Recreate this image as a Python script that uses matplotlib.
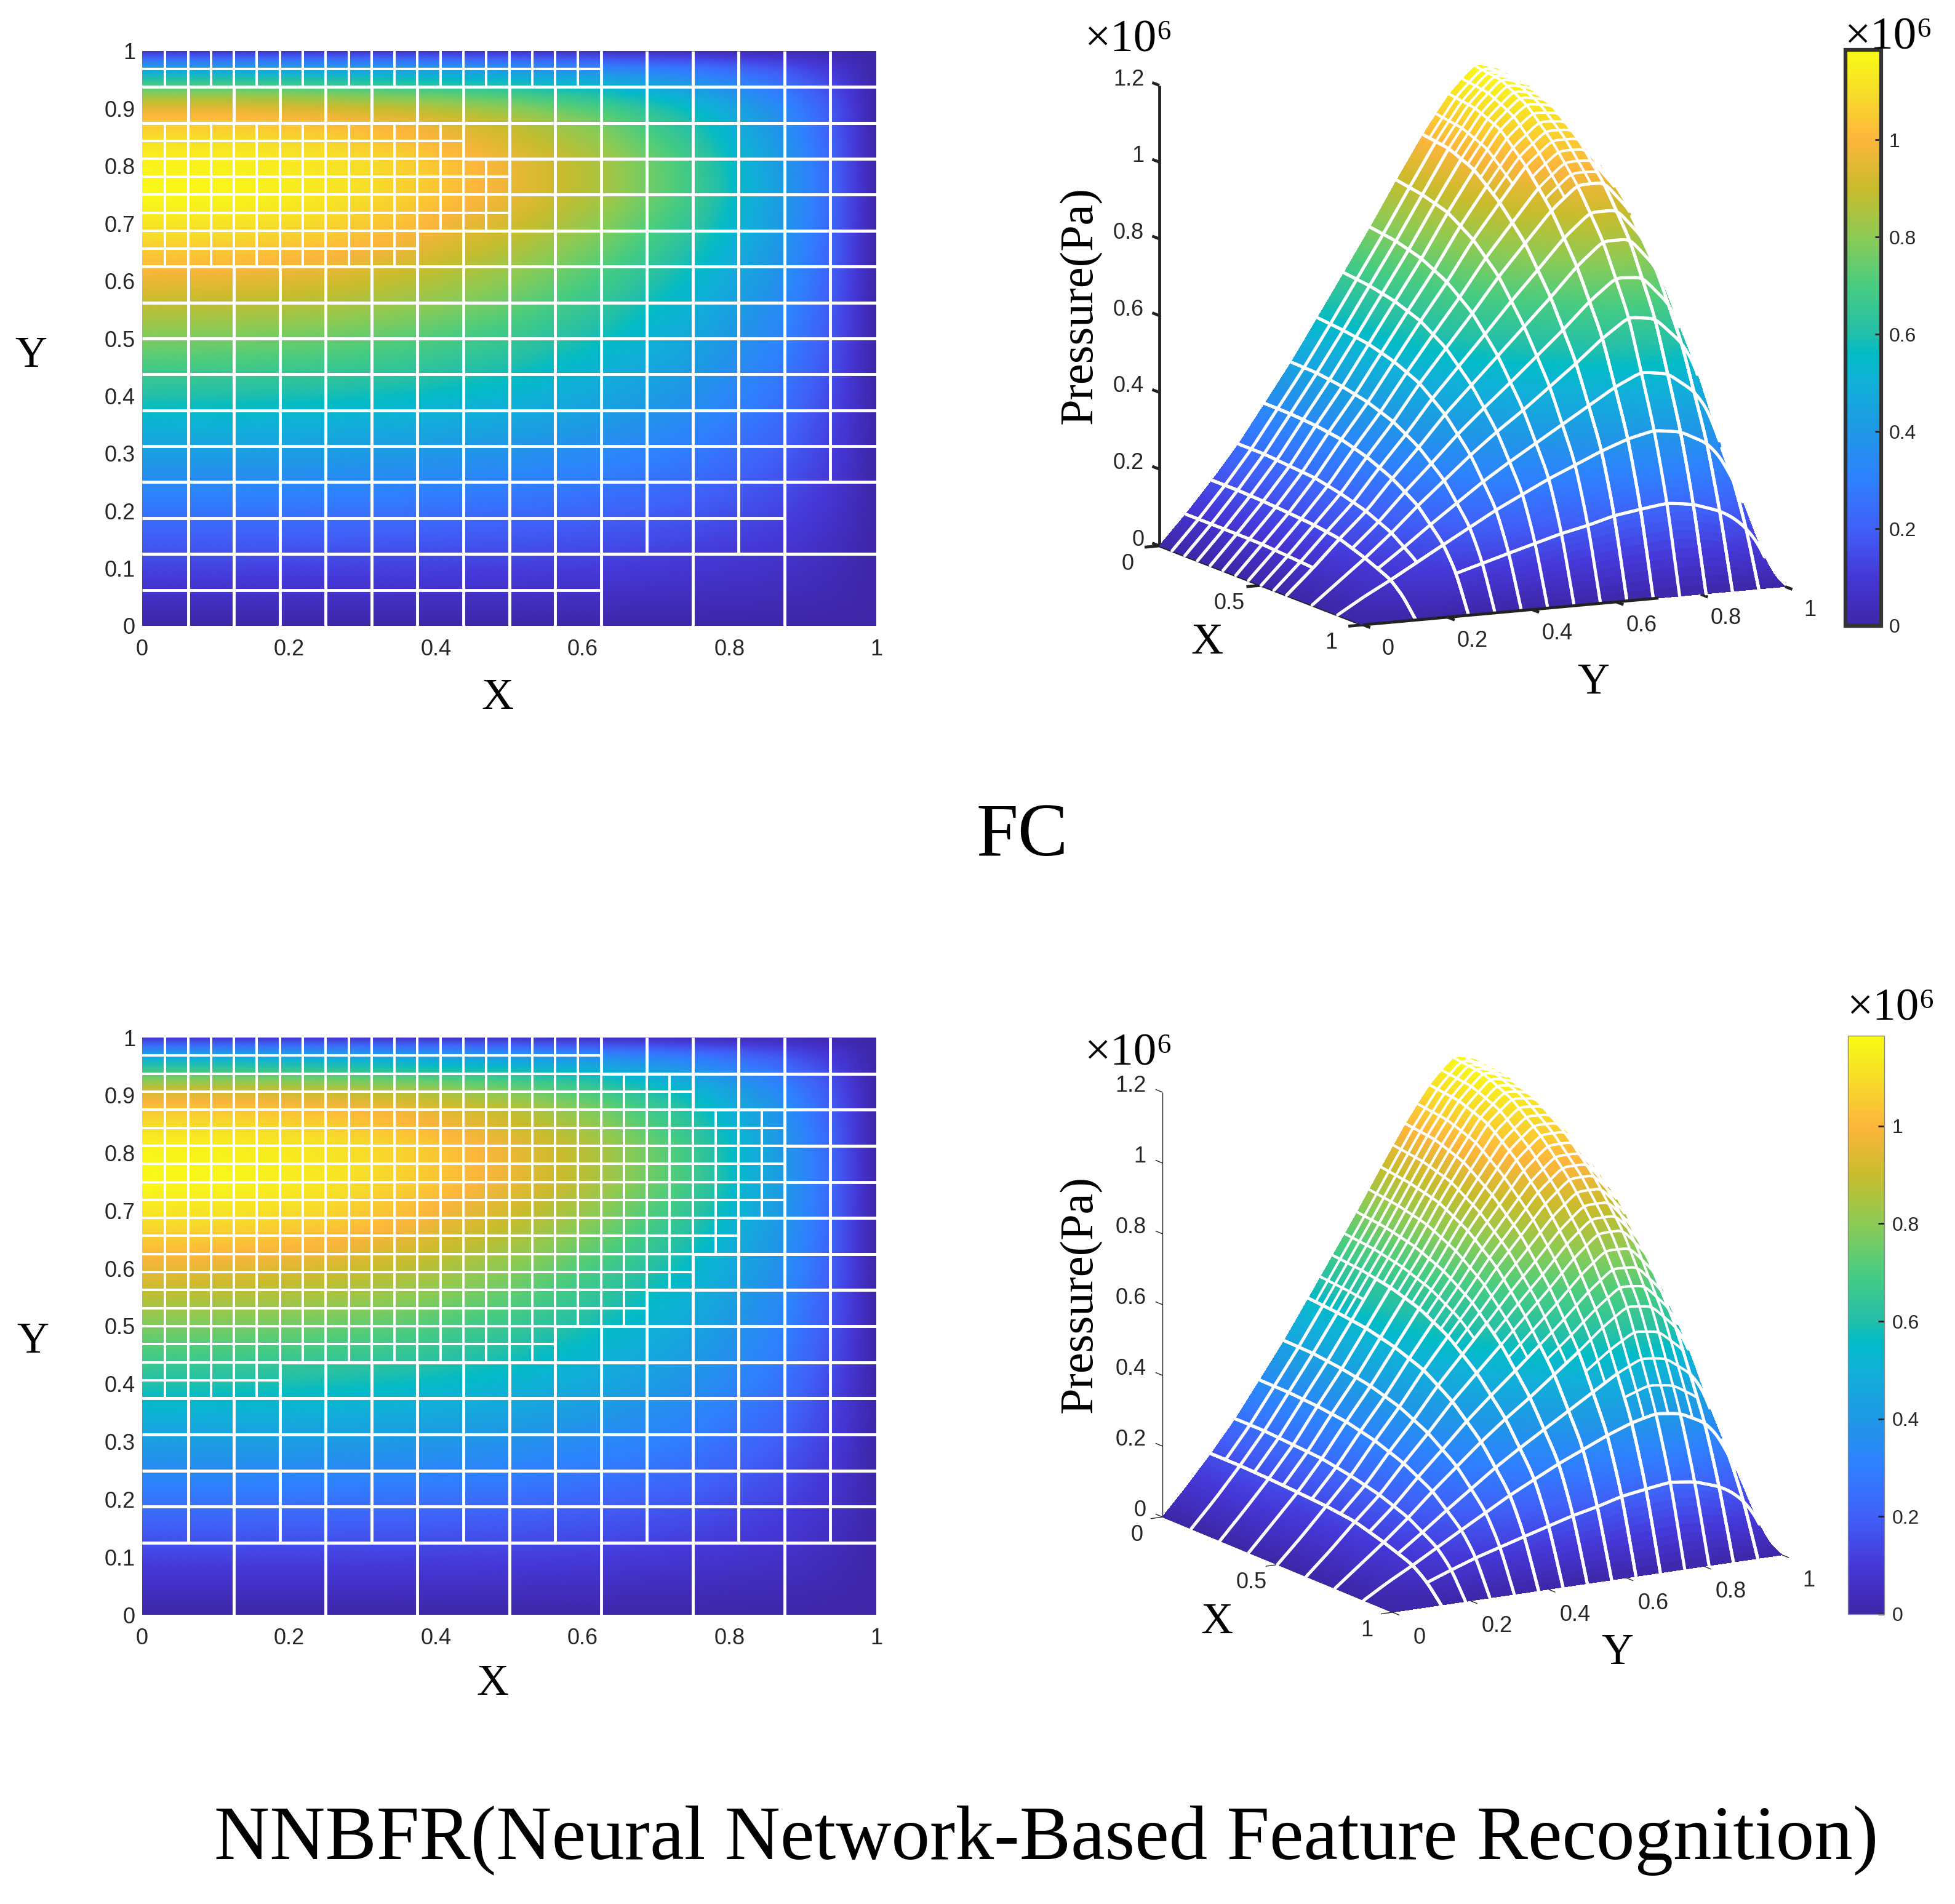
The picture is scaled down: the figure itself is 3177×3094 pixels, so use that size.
import numpy as np
import matplotlib
matplotlib.use("Agg")
import matplotlib.pyplot as plt
from matplotlib.cm import ScalarMappable
from matplotlib.collections import LineCollection
from matplotlib.colors import LinearSegmentedColormap, Normalize
from mpl_toolkits.mplot3d import proj3d
from mpl_toolkits.mplot3d.art3d import Line3DCollection

# ---- data -----------------------------------------------------------------
x_nodes = [0, .125, .25, .375, .5, .625, .75, .875, .9375, 1]
y_nodes = [0, .0625, .125, .1875, .25, .3125, .375, .4375, .5, .5625, .625,
           .6875, .75, .8125, .875, .90625, .9375, .96875, 1]
# pressure in units of 1e6 Pa; one row per y node, one column per x node
pressure = [
    [0, 0, 0, 0, 0, 0, 0, 0, 0, 0],
    [.076, .076, .076, .075, .07, .065, .055, .042, .028, 0],
    [.158, .158, .155, .15, .145, .135, .11, .08, .048, 0],
    [.246, .246, .24, .235, .22, .20, .17, .12, .075, 0],
    [.346, .345, .34, .33, .31, .28, .235, .16, .10, 0],
    [.447, .445, .435, .42, .395, .355, .295, .20, .12, 0],
    [.557, .55, .54, .52, .49, .435, .355, .24, .14, 0],
    [.668, .66, .645, .62, .575, .505, .41, .275, .16, 0],
    [.78, .77, .75, .715, .66, .575, .46, .31, .18, 0],
    [.897, .885, .865, .82, .75, .645, .515, .34, .195, 0],
    [1.01, 1.0, .97, .91, .83, .715, .57, .37, .215, 0],
    [1.11, 1.10, 1.07, 1.0, .91, .79, .63, .395, .225, 0],
    [1.18, 1.17, 1.13, 1.06, .97, .85, .68, .41, .235, 0],
    [1.16, 1.15, 1.12, 1.06, .97, .85, .67, .40, .225, 0],
    [1.05, 1.05, 1.02, .97, .89, .77, .60, .365, .20, 0],
    [.93, .93, .90, .86, .79, .68, .54, .325, .18, 0],
    [.72, .72, .70, .67, .62, .54, .42, .26, .15, 0],
    [.46, .46, .45, .43, .40, .35, .28, .18, .10, 0],
    [.07, .07, .07, .06, .06, .05, .04, .03, .02, 0],
]
# refinement blocks of each mesh: x0, x1, y0, y1, cell width, cell height
fc_mesh = [
    (0, .625, 0, .125, 1/16, 1/16), (.625, 1, 0, .125, 1/8, 1/8),
    (0, .875, .125, .25, 1/16, 1/16), (.875, 1, .125, .25, 1/8, 1/8),
    (0, 1, .25, .625, 1/16, 1/16),
    (0, .375, .625, .6875, 1/32, 1/32), (.375, 1, .625, .6875, 1/16, 1/16),
    (0, .5, .6875, .8125, 1/32, 1/32), (.5, 1, .6875, .8125, 1/16, 1/16),
    (0, .4375, .8125, .875, 1/32, 1/32), (.4375, 1, .8125, .875, 1/16, 1/16),
    (0, 1, .875, .9375, 1/16, 1/16),
    (0, .625, .9375, 1, 1/32, 1/32), (.625, 1, .9375, 1, 1/16, 1/16),
]
nnbfr_mesh = [
    (0, 1, 0, .125, 1/8, 1/8),
    (0, 1, .125, .375, 1/16, 1/16),
    (0, .1875, .375, .4375, 1/32, 1/32), (.1875, 1, .375, .4375, 1/16, 1/16),
    (0, .5625, .4375, .5, 1/32, 1/32), (.5625, 1, .4375, .5, 1/16, 1/16),
    (0, .6875, .5, .5625, 1/32, 1/32), (.6875, 1, .5, .5625, 1/16, 1/16),
    (0, .75, .5625, .625, 1/32, 1/32), (.75, 1, .5625, .625, 1/16, 1/16),
    (0, .8125, .625, .6875, 1/32, 1/32), (.8125, 1, .625, .6875, 1/16, 1/16),
    (0, .875, .6875, .875, 1/32, 1/32), (.875, 1, .6875, .875, 1/16, 1/16),
    (0, .75, .875, .9375, 1/32, 1/32), (.75, 1, .875, .9375, 1/16, 1/16),
    (0, .625, .9375, 1, 1/32, 1/32), (.625, 1, .9375, 1, 1/16, 1/16),
]
tick_2d = [0, .2, .4, .6, .8, 1]
tick_2d_labels = ['0', '0.2', '0.4', '0.6', '0.8', '1']
tick_2d_y = [0, .1, .2, .3, .4, .5, .6, .7, .8, .9, 1]
tick_2d_y_labels = ['0', '0.1', '0.2', '0.3', '0.4', '0.5', '0.6', '0.7', '0.8', '0.9', '1']
tick_z = [0, .2, .4, .6, .8, 1, 1.2]
tick_z_labels = ['0', '0.2', '0.4', '0.6', '0.8', '1', '1.2']
tick_x3d = [0, .5, 1]
tick_x3d_labels = ['0', '0.5', '1']
tick_cb = [0, .2, .4, .6, .8, 1]
tick_cb_labels = ['0', '0.2', '0.4', '0.6', '0.8', '1']
color_levels = [0, .1, .2, .3, .4, .5, .56, .6, .7, .8, .9, 1.0, 1.1, 1.185]
color_stops = ['#3e26a8', '#4538d8', '#4060f8', '#2f80ff', '#1f98e6', '#10b0d8', '#02bbc6',
               '#22bfaa', '#48cc80', '#8ccb55', '#c8bc2c', '#fdb53c', '#f7de28', '#f9fb15']
color_max = 1.185
title_fc = 'FC'
title_nn = 'NNBFR(Neural Network-Based Feature Recognition)'
# ---------------------------------------------------------------------------

W, H = 3177, 3094
SERIF = ['Liberation Serif', 'DejaVu Serif']
SANS = ['Liberation Sans', 'DejaVu Sans']
TXT = '#262626'
fig = plt.figure(figsize=(W / 100, H / 100), dpi=100, facecolor='white')

stops = [(v / color_max, c) for v, c in zip(color_levels, color_stops)]
cmap = LinearSegmentedColormap.from_list('parula_like', stops, N=512)
norm = Normalize(0, color_max)


def ftext(px, py, s, **kw):
    kw.setdefault('ha', 'center')
    kw.setdefault('va', 'center')
    kw.setdefault('family', SERIF)
    if not kw.get('rotation'):
        py += 7
    fig.text(px / W, 1 - py / H, s, **kw)


def rect(l, t, r, b):
    return [l / W, 1 - b / H, (r - l) / W, (b - t) / H]


def soften(a, width):
    # rounds the corners left by the coarse table, keeping the end values
    k = np.hanning(width + 2)[1:-1]
    k /= k.sum()
    h = width // 2
    pad = np.concatenate([2 * a[0] - a[h:0:-1], a, 2 * a[-1] - a[-2:-h - 2:-1]])
    return np.convolve(pad, k, mode='valid')


P = np.array(pressure, float)
XN, YN = np.array(x_nodes, float), np.array(y_nodes, float)
fine = np.linspace(0, 1, 321)
F = np.array([np.interp(fine, XN, row) for row in P])
F = np.array([np.interp(fine, YN, F[:, j]) for j in range(F.shape[1])]).T
F = np.array([soften(row, 25) for row in F])
F = np.array([soften(F[:, j], 15) for j in range(F.shape[1])]).T
dFy, dFx = np.gradient(F / 1.2, fine, fine)


def mesh_lines(blocks, small):
    segs = []
    for x0, x1, y0, y1, dx, dy in blocks:
        if small != (dx == 1 / 32):
            continue
        for x in np.arange(x0, x1 + 1e-9, dx):
            if 0 < x < 1:
                segs.append(((x, y0), (x, y1)))
        for y in np.arange(y0, y1 + 1e-9, dy):
            if 0 < y < 1:
                segs.append(((x0, y), (x1, y)))
    return segs


def panel_2d(box, blocks):
    ax = fig.add_axes(rect(*box))
    ax.pcolormesh(fine[::4], fine[::4], F[::4, ::4], shading='gouraud', cmap=cmap, norm=norm)
    for small, lw in ((True, 2.9), (False, 3.5)):
        ax.add_collection(LineCollection(mesh_lines(blocks, small), colors='white', linewidths=lw,
                                         capstyle='butt', zorder=3))
    ax.set_xlim(0, 1)
    ax.set_ylim(0, 1)
    for s in ax.spines.values():
        s.set_visible(False)
    ax.set_xticks(tick_2d, tick_2d_labels, family=SANS, fontsize=26, color=TXT)
    ax.set_yticks(tick_2d_y, tick_2d_y_labels, family=SANS, fontsize=26, color=TXT)
    ax.tick_params(length=0)
    ax.tick_params(axis='x', pad=15)
    ax.tick_params(axis='y', pad=8)
    return ax


def panel_3d(A_px, C_px, elev, azim, aspect, blocks, axis_lw, tick_len, heavy_y, ylab_off, xlab_off, zlab_dx,
             small_lw):
    size = 1500
    ax = fig.add_axes(rect(0, 0, size, size), projection='3d', proj_type='ortho')
    ax.set_xlim(0, 1)
    ax.set_ylim(0, 1)
    ax.set_zlim(0, 1.2)
    ax.set_xticks([])
    ax.set_yticks([])
    ax.set_zticks([])
    ax.view_init(elev=elev, azim=azim)
    ax.set_box_aspect(aspect)
    ax.set_axis_off()
    ax.patch.set_alpha(0)
    ax.computed_zorder = False

    def disp(x, y, z):
        ax.apply_aspect()
        u, v, _ = proj3d.proj_transform(x, y, z, ax.get_proj())
        return ax.transData.transform((u, v))

    target_A = np.array([A_px[0], H - A_px[1]], float)
    target_C = np.array([C_px[0], H - C_px[1]], float)
    scale = np.linalg.norm(target_C - target_A) / np.linalg.norm(disp(1, 1, 0) - disp(0, 0, 0))
    size *= scale
    ax.set_position([0, 0, size / W, size / H])
    shift = target_A - disp(0, 0, 0)
    ax.set_position([shift[0] / W, shift[1] / H, size / W, size / H])

    def label(x, y, z, s, ha):
        d = disp(x, y, z)
        fig.text(d[0] / W, d[1] / H, s, family=SANS, fontsize=26, color=TXT, ha=ha, va='center')

    # surface
    s = 2
    Xg, Yg = np.meshgrid(fine[::s], fine[::s])
    Zg = F[::s, ::s]
    mids = (Zg[:-1, :-1] + Zg[1:, 1:] + Zg[1:, :-1] + Zg[:-1, 1:]) / 4
    ax.plot_surface(Xg, Yg, Zg, facecolors=cmap(norm(mids)), rstride=1, cstride=1, shade=False,
                    linewidth=0, antialiased=False, zorder=1)

    # mesh lines, with the parts on the far side of the surface left out
    a, e = np.radians(azim), np.radians(elev)
    view = (np.cos(a) * np.cos(e), np.sin(a) * np.cos(e), np.sin(e))
    n = fine.size - 1
    for small, lw in ((True, small_lw), (False, 3.6)):
        segs3d = []
        for (x0, y0), (x1, y1) in mesh_lines(blocks, small):
            m = int(max(abs(x1 - x0), abs(y1 - y0)) * n) + 1
            ix = np.rint(np.linspace(x0, x1, m) * n).astype(int)
            iy = np.rint(np.linspace(y0, y1, m) * n).astype(int)
            vis = -dFx[iy, ix] * view[0] - dFy[iy, ix] * view[1] + view[2] > 0
            pts = np.column_stack([fine[ix], fine[iy], F[iy, ix]])
            for k in range(m - 1):
                if vis[k] and vis[k + 1]:
                    segs3d.append(pts[k:k + 2])
        ax.add_collection3d(Line3DCollection(segs3d, colors='white', linewidths=lw, capstyle='round', zorder=2),
                            autolim=False)

    # axes drawn by hand so that they sit where the original has them
    ka = dict(color='#222222', lw=axis_lw, solid_capstyle='butt')
    ax.plot([0, 0], [0, 0], [0, 1.2], zorder=0, **ka)
    ax.plot([0, 1], [0, 0], [0, 0], zorder=0, **ka)
    ax.plot([1, 1], [0, heavy_y], [0, 0], zorder=3, **ka)
    for z, lab in zip(tick_z, tick_z_labels):
        ax.plot([-tick_len, 0], [0, 0], [z, z], zorder=0, **ka)
        label(-zlab_dx, 0, z, lab, 'right')
    for x, lab in zip(tick_x3d, tick_x3d_labels):
        ax.plot([x, x], [-tick_len, 0], [0, 0], zorder=0, **ka)
        label(x + xlab_off[0], xlab_off[1], 0, lab, 'center')
    for y, lab in zip(tick_2d, tick_2d_labels):
        ax.plot([1, 1 + tick_len], [y, y], [0, 0], zorder=0, **ka)
        label(1 + ylab_off[0], y + ylab_off[1], 0, lab, 'center')
    return ax


def colorbar(box, edge, edge_w):
    cax = fig.add_axes(rect(*box))
    cb = fig.colorbar(ScalarMappable(norm=norm, cmap=cmap), cax=cax)
    cb.set_ticks(tick_cb, labels=tick_cb_labels)
    cb.outline.set_edgecolor(edge)
    cb.outline.set_linewidth(edge_w)
    cax.tick_params(direction='in', length=7, width=2, color='#222222', pad=9, labelsize=23,
                    labelcolor=TXT)
    for t in cax.get_yticklabels():
        t.set_family(SANS)


# top row: FC
panel_2d((231, 83, 1424, 1017), fc_mesh)
panel_3d((1884, 887), (2901, 953), 10.8, -25.8, (761, 762, 762), fc_mesh, 3.4, .035, .7,
         (.268, -.07), (.155, -.15), .075, 2.8)
colorbar((2999, 81, 3057, 1017), '#333333', 4.5)
ftext(50, 571, 'Y', fontsize=52)
ftext(808, 1127, 'X', fontsize=52)
ftext(1961, 1037, 'X', fontsize=52)
ftext(2589, 1102, 'Y', fontsize=52)
ftext(1755, 496, 'Pressure(Pa)', fontsize=55, rotation=90)
ftext(1834, 59, '×10⁶', fontsize=54)
ftext(3069, 55, '×10⁶', fontsize=54)
ftext(1661, 1353, title_fc, fontsize=88)

# bottom row: NNBFR
panel_2d((231, 1686, 1424, 2624), nnbfr_mesh)
panel_3d((1889, 2465), (2896, 2527), 14.3, -30.8, (730, 737, 712), nnbfr_mesh, 1.0, .03, .0,
         (.228, -.066), (.11, -.131), .07, 2.8)
colorbar((3003, 1683, 3062, 2623), '#888888', 1.0)
ftext(53, 2174, 'Y', fontsize=52)
ftext(800, 2729, 'X', fontsize=52)
ftext(1977, 2630, 'X', fontsize=52)
ftext(2628, 2680, 'Y', fontsize=52)
ftext(1755, 2103, 'Pressure(Pa)', fontsize=55, rotation=90)
ftext(1834, 1706, '×10⁶', fontsize=54)
ftext(3073, 1633, '×10⁶', fontsize=54)
ftext(1700, 2984, title_nn, fontsize=90)

fig.savefig('out.png', dpi=100, facecolor='white')
